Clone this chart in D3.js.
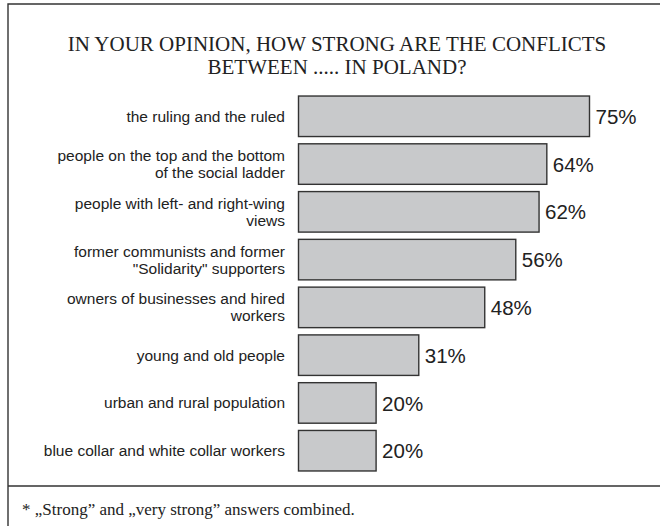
<!DOCTYPE html>
<html>
<head>
<meta charset="utf-8">
<script src="https://cdn.jsdelivr.net/npm/d3@7"></script>
<style>
  html, body { margin: 0; padding: 0; background: #fff; }
  svg { display: block; }
</style>
</head>
<body>
<svg id="chart" width="660" height="526"></svg>
<script>
// Survey question and answer categories
const titleLines = [
  "IN YOUR OPINION, HOW STRONG ARE THE CONFLICTS",
  "BETWEEN ..... IN POLAND?"
];
const categories = [
  ["the ruling and the ruled"],
  ["people on the top and the bottom", "of the social ladder"],
  ["people with left- and right-wing", "views"],
  ["former communists and former", "\"Solidarity\" supporters"],
  ["owners of businesses and hired", "workers"],
  ["young and old people"],
  ["urban and rural population"],
  ["blue collar and white collar workers"]
];
// Share of "strong" + "very strong" answers, in percent
const values = [75, 64, 62, 56, 48, 31, 20, 20];
const footnote = "* \u201eStrong\u201d and \u201every strong\u201d answers combined.";

const svg = d3.select("#chart");
const ink = "#333";

// Frame: left edge, top edge, and divider above the footnote
svg.append("path")
  .attr("d", "M8,526 V4 H660 M8,486 H660")
  .attr("fill", "none")
  .attr("stroke", ink)
  .attr("stroke-width", 1.4);

// Title
svg.append("text")
  .attr("x", 337)
  .attr("text-anchor", "middle")
  .attr("font-family", "'Liberation Serif', 'Times New Roman', serif")
  .attr("font-size", 21)
  .attr("fill", "#222")
  .selectAll("tspan")
  .data(titleLines)
  .join("tspan")
  .attr("x", 337)
  .attr("y", (d, i) => 51 + i * 23)
  .text(d => d);

const idx = d3.range(values.length);

const x = d3.scaleLinear().domain([0, 100]).range([298.5, 686.5]);
const y = d3.scaleBand()
  .domain(idx)
  .range([92.4, 474.6])
  .paddingInner(0.152)
  .paddingOuter(0.076);

// Bars
svg.append("g")
  .selectAll("rect")
  .data(idx)
  .join("rect")
  .attr("x", x(0))
  .attr("y", i => y(i))
  .attr("width", i => x(values[i]) - x(0))
  .attr("height", y.bandwidth())
  .attr("fill", "#c8c9cb")
  .attr("stroke", ink)
  .attr("stroke-width", 1.4);

// Category labels, right-aligned next to the bars
const lineH = 17;
svg.append("g")
  .attr("font-family", "'Liberation Sans', Arial, sans-serif")
  .attr("font-size", 15.5)
  .attr("fill", "#222")
  .attr("text-anchor", "end")
  .selectAll("text")
  .data(idx)
  .join("text")
  .each(function (i) {
    const lines = categories[i];
    const cy = y(i) + y.bandwidth() / 2;
    const first = cy + 5.4 - (lines.length - 1) * lineH / 2;
    d3.select(this).selectAll("tspan")
      .data(lines)
      .join("tspan")
      .attr("x", 285)
      .attr("y", (d, k) => first + k * lineH)
      .text(d => d);
  });

// Value labels at bar ends
svg.append("g")
  .attr("font-family", "'Liberation Sans', Arial, sans-serif")
  .attr("font-size", 20.5)
  .attr("fill", "#222")
  .selectAll("text")
  .data(idx)
  .join("text")
  .attr("x", i => x(values[i]) + 6)
  .attr("y", i => y(i) + y.bandwidth() / 2 + 7.6)
  .text(i => values[i] + "%");

// Footnote
svg.append("text")
  .attr("x", 22)
  .attr("y", 515)
  .attr("font-family", "'Liberation Serif', 'Times New Roman', serif")
  .attr("font-size", 17)
  .attr("fill", "#222")
  .text(footnote);
</script>
</body>
</html>
